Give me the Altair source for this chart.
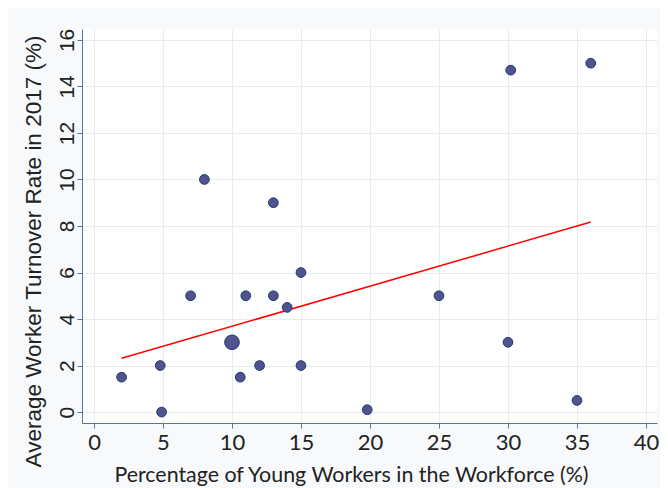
import altair as alt
import pandas as pd

# Data
young_pct = [2, 4.8, 4.9, 7, 8, 10, 10.6, 11, 12, 13, 13, 14, 15, 15, 19.8, 25, 30, 30.2, 35, 36]
turnover = [1.5, 2, 0, 5, 10, 3, 1.5, 5, 2, 9, 5, 4.5, 6, 2, 0.1, 5, 3, 14.7, 0.5, 15]
weight = [1, 1, 1, 1, 1, 2, 1, 1, 1, 1, 1, 1, 1, 1, 1, 1, 1, 1, 1, 1]

fit_x = [2, 36]
fit_y = [2.31, 8.17]

x_ticks = [0, 5, 10, 15, 20, 25, 30, 35, 40]
y_ticks = [0, 2, 4, 6, 8, 10, 12, 14, 16]

pts = pd.DataFrame({"x": young_pct, "y": turnover, "w": weight})
fit = pd.DataFrame({"x": fit_x, "y": fit_y})

axis_col = "#55779a"
grid_col = "#e5edf1"

xscale = alt.Scale(domain=[-0.87, 40.8], nice=False, zero=False)
yscale = alt.Scale(domain=[-0.47, 16.47], nice=False, zero=False)

xaxis = alt.Axis(
    values=x_ticks, title="Percentage of Young Workers in the Workforce (%)",
    labelFont="Lato", labelFontSize=22, labelColor="#222222", labelPadding=4,
    titleFont="Lato", titleFontSize=21.4, titleColor="#222222", titleFontWeight="normal",
    titleX=269, titleY=58, titleAlign="center", titleBaseline="alphabetic", titleAnchor="start",
    domainColor=axis_col, tickColor=axis_col, tickSize=5, gridColor=grid_col, grid=True,
)
yaxis = alt.Axis(
    values=y_ticks, title="Average Worker Turnover Rate in 2017 (%)",
    labelFont="Liberation Sans Narrow, Liberation Sans", labelFontSize=21, labelColor="#222222",
    labelAngle=270, labelAlign="center", labelBaseline="alphabetic", labelPadding=4,
    titleFont="Liberation Sans", titleFontSize=22.5, titleColor="#222222", titleFontWeight="normal",
    titleAngle=270, titleX=-42, titleY=222, titleAlign="center", titleBaseline="alphabetic",
    titleAnchor="start",
    domainColor=axis_col, tickColor=axis_col, tickSize=5, gridColor=grid_col, grid=True,
)

points = alt.Chart(pts).mark_circle(
    color="#52528f", stroke="#1c3d6a", strokeWidth=1, opacity=1
).encode(
    x=alt.X("x:Q", scale=xscale, axis=xaxis),
    y=alt.Y("y:Q", scale=yscale, axis=yaxis),
    size=alt.Size("w:Q", scale=alt.Scale(domain=[1, 2], range=[95, 215]), legend=None),
)

line = alt.Chart(fit).mark_line(color="#ff0000", strokeWidth=1.5).encode(
    x=alt.X("x:Q", scale=xscale),
    y=alt.Y("y:Q", scale=yscale),
)

chart = alt.layer(line, points).properties(
    width=575, height=394,
    background="#f7f9fb",
    padding={"left": 74, "top": 21, "right": 3, "bottom": 65},
    autosize=alt.AutoSizeParams(type="none"),
).configure_view(stroke=None, fill="white")

chart.save("out.html", embed_options={"renderer": "svg", "actions": False})
